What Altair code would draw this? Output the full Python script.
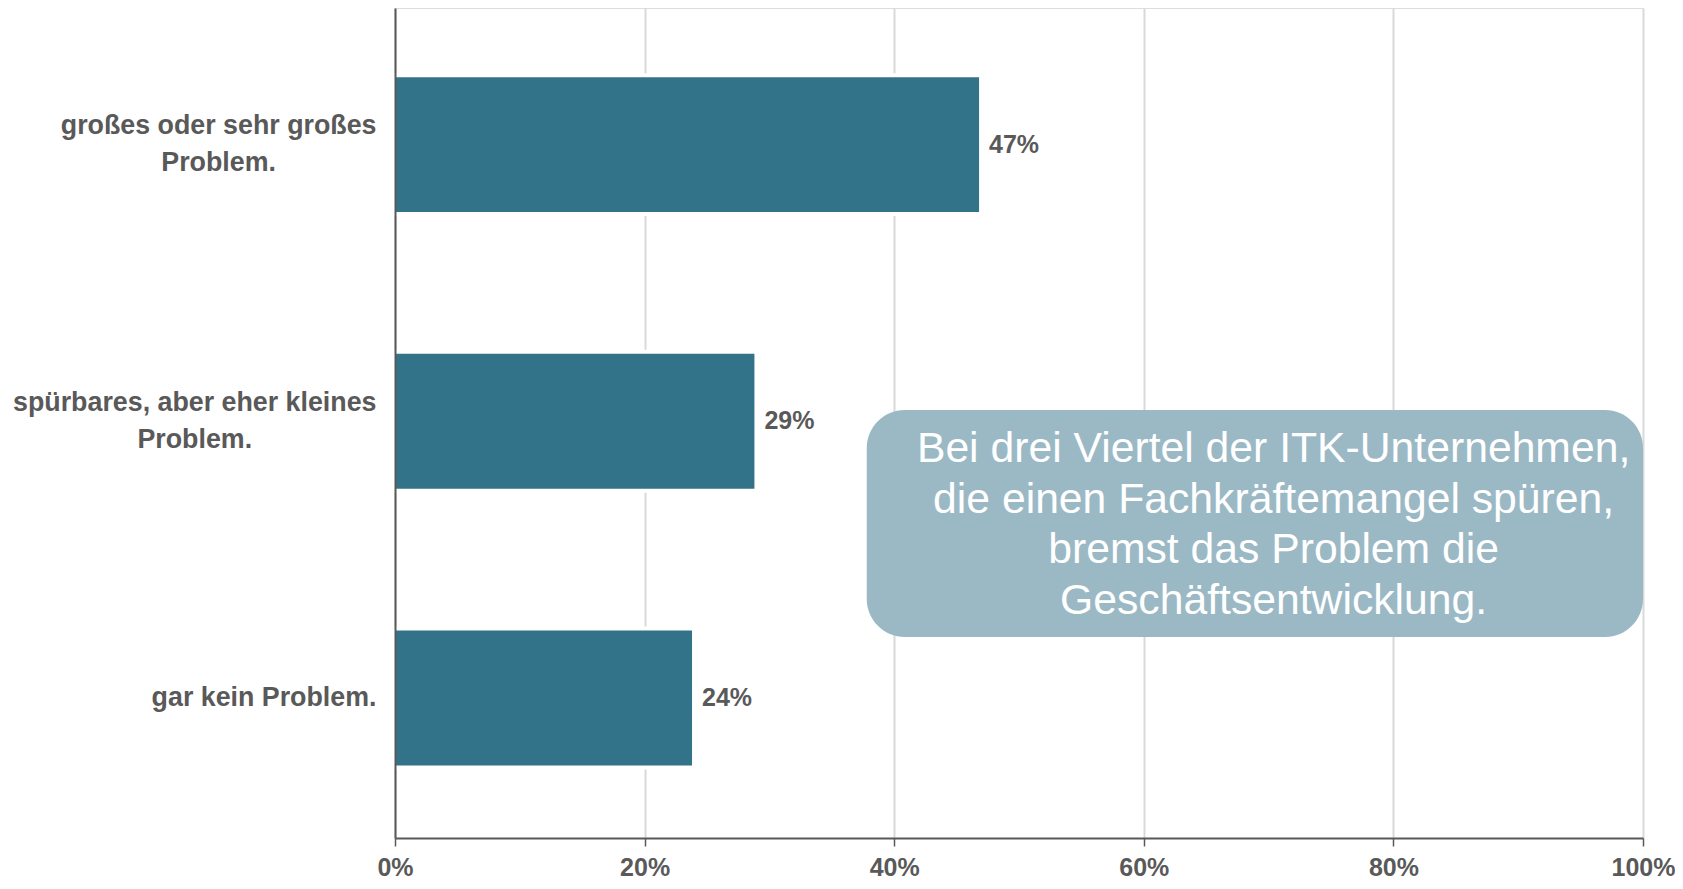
import altair as alt
import pandas as pd

# ---- data -------------------------------------------------------------
categories = [
    "großes oder sehr großes\nProblem.",
    "spürbares, aber eher kleines\nProblem.",
    "gar kein Problem.",
]
shares = [0.468, 0.288, 0.238]
x_ticks = [0.0, 0.2, 0.4, 0.6, 0.8, 1.0]
note_lines = [
    "Bei drei Viertel der ITK-Unternehmen,",
    "die einen Fachkräftemangel spüren,",
    "bremst das Problem die",
    "Geschäftsentwicklung.",
]

# ---- style / layout ---------------------------------------------------
FONT = "Liberation Sans"
TXT = "#595959"
BAR = "#327389"
BOX = "#9BB9C5"
W, H = 1248, 830
YLAB_FS = 26.8
YLAB_LH = 36.5
YLAB_GAP = 18.5  # gap between label block right edge and axis

# Arial/Liberation Sans Bold advance widths (1/1000 em) for label centring
ADV = {' ': 278, ',': 278, '.': 278, 'a': 556, 'b': 611, 'd': 611, 'e': 556,
       'g': 611, 'h': 611, 'i': 278, 'k': 556, 'l': 278, 'm': 889, 'n': 611,
       'o': 611, 'p': 611, 'r': 389, 's': 556, 'ü': 611, 'ß': 611, 'P': 667}


def block_width(label, fs):
    return max(sum(ADV.get(c, 556) for c in line) for line in label.split("\n")) * fs / 1000


df = pd.DataFrame({"cat": categories, "share": shares})
df["lx"] = [(-YLAB_GAP - block_width(c, YLAB_FS) / 2) / W for c in categories]
df["nl"] = [c.count("\n") + 1 for c in categories]
note = pd.DataFrame({"t": ["\n".join(note_lines)]})

xscale = alt.Scale(domain=[0, 1], nice=False, zero=False)
yscale = alt.Scale(paddingInner=0.5126, paddingOuter=0.2563, align=0.488)

xaxis = alt.Axis(
    values=x_ticks, format=".0%", title=None, grid=True,
    gridColor="#d9d9d9", gridWidth=2,
    domainColor=TXT, domainWidth=2,
    tickColor=TXT, tickWidth=1.5, tickSize=8,
    labelFont=FONT, labelFontSize=25, labelFontWeight="bold",
    labelColor=TXT, labelPadding=9, labelFlush=False,
)
yaxis = alt.Axis(labels=False, ticks=False, title=None, grid=False,
                 domainColor=TXT, domainWidth=2, zindex=1)

base = alt.Chart(df)
y_enc = alt.Y("cat:N", sort=categories, scale=yscale, axis=yaxis)
y_plain = alt.Y("cat:N", sort=categories, scale=yscale)

halo = base.mark_bar(color="white", stroke="white", strokeWidth=8).encode(
    x=alt.X("share:Q", scale=xscale, axis=xaxis), y=y_enc)

bars = base.mark_bar(color=BAR).encode(
    x=alt.X("share:Q", scale=xscale, axis=xaxis), y=y_enc)

values = base.mark_text(
    align="left", baseline="middle", dx=10, font=FONT, fontSize=25,
    fontWeight="bold", color=TXT,
).encode(
    x=alt.X("share:Q", scale=xscale),
    y=y_plain,
    text=alt.Text("share:Q", format=".0%"),
)

# category labels: one layer per line count so each block is centred on its bar
label_layers = []
for n in sorted(set(df["nl"])):
    label_layers.append(
        base.transform_filter(alt.datum.nl == n).mark_text(
            align="center", baseline="middle", lineBreak="\n",
            lineHeight=YLAB_LH, dy=-(n - 1) * YLAB_LH / 2,
            font=FONT, fontSize=YLAB_FS, fontWeight="bold", color=TXT,
        ).encode(
            x=alt.X("lx:Q", scale=xscale),
            y=y_plain,
            text="cat:N",
        )
    )

box = alt.Chart(note).mark_rect(color=BOX, cornerRadius=38).encode(
    x=alt.datum(0.378), x2=alt.datum(1.0),
    y=alt.value(402), y2=alt.value(629),
)

note_text = alt.Chart(note).mark_text(
    align="center", baseline="middle", lineBreak="\n", lineHeight=50.5,
    font=FONT, fontSize=42.7, color="white",
).encode(
    x=alt.datum(0.704), y=alt.value(441), text="t:N",
)

chart = alt.layer(halo, bars, values, *label_layers, box, note_text).properties(
    width=W, height=H,
    autosize=alt.AutoSizeParams(type="none"),
    padding={"left": 387, "top": 0, "right": 32, "bottom": 43},
).configure_view(stroke=None).configure(background="white")

chart.save("out.html", embed_options={"renderer": "svg", "actions": False})
